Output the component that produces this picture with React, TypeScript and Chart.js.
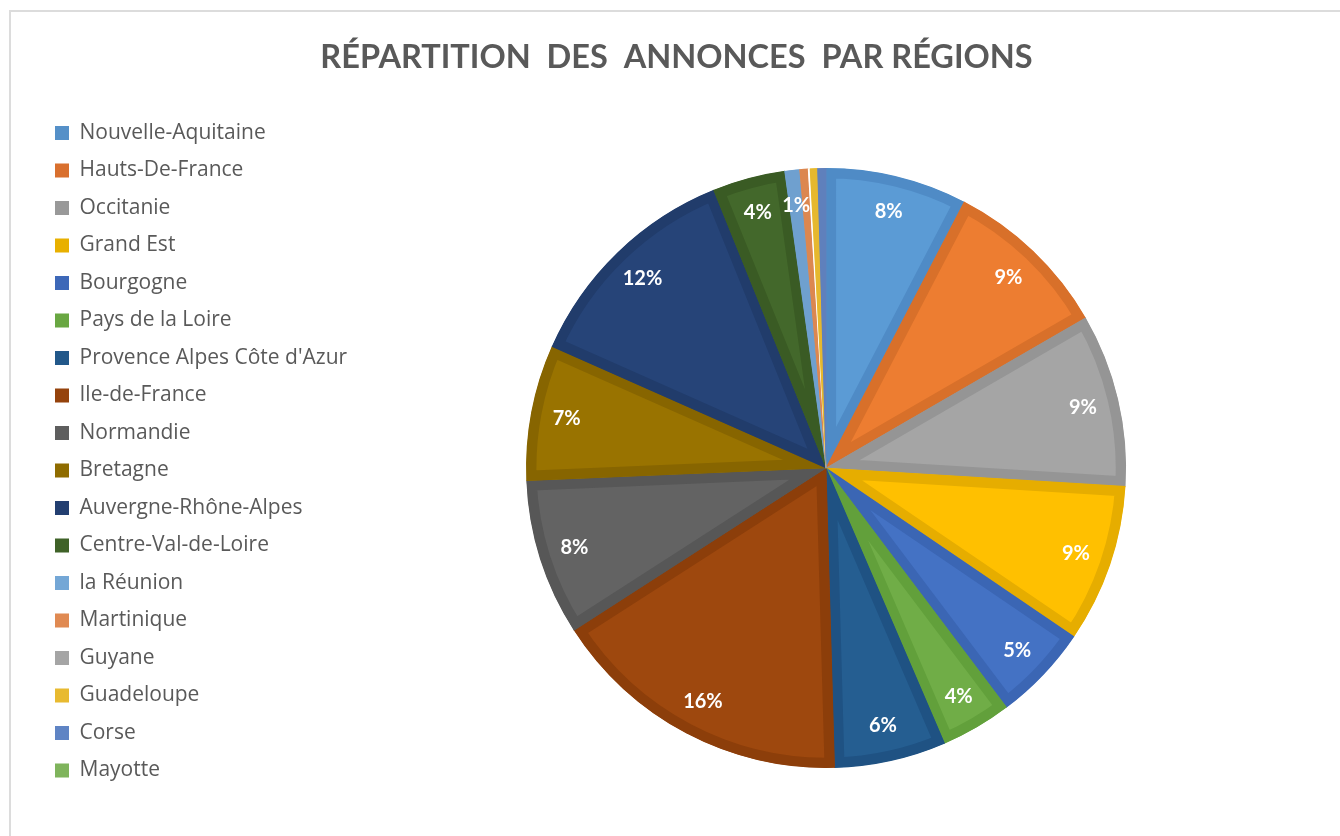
import React, { useEffect, useRef } from "react";
import { Chart, registerables } from "chart.js";

Chart.register(...registerables);

const TITLE = "RÉPARTITION  DES  ANNONCES  PAR RÉGIONS";

const regions = [
  "Nouvelle-Aquitaine",
  "Hauts-De-France",
  "Occitanie",
  "Grand Est",
  "Bourgogne",
  "Pays de la Loire",
  "Provence Alpes Côte d'Azur",
  "Ile-de-France",
  "Normandie",
  "Bretagne",
  "Auvergne-Rhône-Alpes",
  "Centre-Val-de-Loire",
  "la Réunion",
  "Martinique",
  "Guyane",
  "Guadeloupe",
  "Corse",
  "Mayotte",
];

const shares = [7.6, 9.0, 9.3, 8.5, 5.2, 3.8, 6.0, 16.3, 8.4, 7.3, 12.2, 3.9, 0.8, 0.45, 0.1, 0.4, 0.45, 0];

const fillColors = [
  "#5b9bd5", "#ed7d31", "#a5a5a5", "#ffc000", "#4472c4", "#70ad47",
  "#255e91", "#9e480e", "#636363", "#997300", "#264478", "#43682b",
  "#7cafdd", "#f1975a", "#ffffff", "#ffcd33", "#698ed0", "#8cc168",
];

const bandColors = [
  "#4f8bc6", "#d8702a", "#959595", "#e6ad00", "#3b66b4", "#62a03b",
  "#1f5283", "#8c3e0a", "#575757", "#876500", "#213c6b", "#3a5b24",
  "#6fa0cf", "#dc8750", "#ffffff", "#e6b82e", "#5f80bc", "#7db25a",
];

const legendColors = [
  "#5590c8", "#d9702e", "#999999", "#e8b000", "#3d68b8", "#69a742",
  "#22588a", "#95430c", "#5e5e5e", "#8f6c00", "#233f71", "#3f6228",
  "#74a7d6", "#e08a52", "#a5a5a5", "#e8ba30", "#5f84c4", "#7fb45c",
];

const titlePlugin = {
  id: "excelTitle",
  afterDraw(chart: any) {
    const ctx = chart.ctx;
    ctx.save();
    ctx.font = "bold 32.5px Lato";
    ctx.fillStyle = "#595959";
    ctx.textAlign = "center";
    ctx.textBaseline = "alphabetic";
    ctx.fillText(TITLE, 676.5, 68);
    ctx.restore();
  },
};

const labelPlugin = {
  id: "sliceLabels",
  afterDatasetsDraw(chart: any) {
    const ctx = chart.ctx;
    const meta = chart.getDatasetMeta(0);
    const total = shares.reduce((a, b) => a + b, 0);
    ctx.save();
    ctx.font = "bold 20px Lato";
    ctx.fillStyle = "#ffffff";
    ctx.textAlign = "center";
    ctx.textBaseline = "middle";
    meta.data.forEach((arc: any, i: number) => {
      const pct = Math.round((shares[i] / total) * 100);
      if (pct < 1) return;
      const { x, y, startAngle, endAngle, outerRadius } = arc.getProps(
        ["x", "y", "startAngle", "endAngle", "outerRadius"],
        true
      );
      const mid = (startAngle + endAngle) / 2;
      const r = outerRadius * 0.88;
      ctx.fillText(pct + "%", x + Math.cos(mid) * r, y + Math.sin(mid) * r);
    });
    ctx.restore();
  },
};

export default function App() {
  const ref = useRef<HTMLCanvasElement>(null);

  useEffect(() => {
    if (!ref.current) return;
    const chart = new Chart(ref.current, {
      type: "pie",
      data: {
        labels: regions,
        datasets: [
          {
            data: shares,
            backgroundColor: fillColors,
            borderColor: bandColors,
            borderWidth: 10,
            borderAlign: "inner",
            radius: 300,
          } as any,
        ],
      },
      options: {
        animation: false,
        responsive: false,
        devicePixelRatio: 1,
        layout: { padding: { top: 106, left: 38.5, right: 45, bottom: 6 } },
        plugins: {
          title: { display: false },
          legend: {
            display: true,
            position: "left",
            align: "start",
            fullSize: false,
            labels: {
              boxWidth: 14,
              boxHeight: 14,
              padding: 16.5,
              color: "#595959",
              font: { family: "Open Sans", size: 21 },
              generateLabels: () =>
                regions.map((t, i) => ({
                  text: t,
                  fillStyle: legendColors[i],
                  strokeStyle: legendColors[i],
                  lineWidth: 0,
                  hidden: false,
                  index: i,
                  fontColor: "#595959",
                })),
            },
          },
          tooltip: { enabled: false },
        },
      },
      plugins: [labelPlugin, titlePlugin],
    });
    return () => chart.destroy();
  }, []);

  return (
    <div
      style={{
        position: "absolute",
        left: 0,
        top: 0,
        width: 1340,
        height: 836,
        overflow: "hidden",
        background: "#ffffff",
      }}
    >
      <div
        style={{
          position: "absolute",
          left: 9,
          top: 10,
          width: 1400,
          height: 900,
          borderLeft: "2px solid #dcdcdc",
          borderTop: "2px solid #dcdcdc",
        }}
      />
      <canvas
        ref={ref}
        width={1340}
        height={836}
        style={{ position: "absolute", left: 0, top: 0, width: 1340, height: 836 }}
      />
    </div>
  );
}
